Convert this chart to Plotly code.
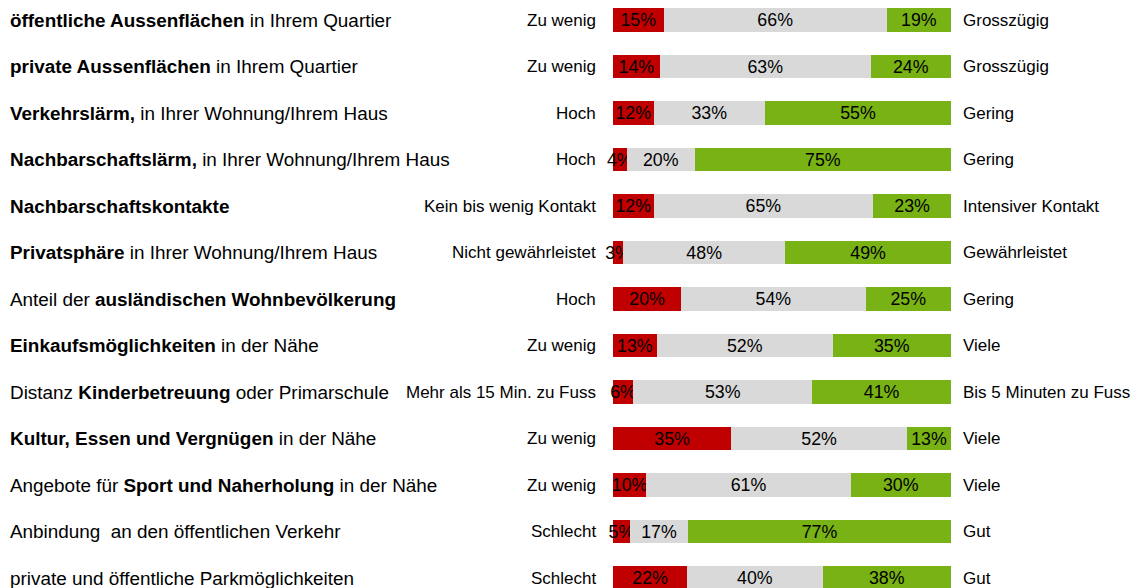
import plotly.graph_objects as go

# Bewertung des Wohnumfelds, Anteile in %
items = [
    "<b>öffentliche Aussenflächen</b> in Ihrem Quartier",
    "<b>private Aussenflächen</b> in Ihrem Quartier",
    "<b>Verkehrslärm,</b> in Ihrer Wohnung/Ihrem Haus",
    "<b>Nachbarschaftslärm,</b> in Ihrer Wohnung/Ihrem Haus",
    "<b>Nachbarschaftskontakte</b>",
    "<b>Privatsphäre</b> in Ihrer Wohnung/Ihrem Haus",
    "Anteil der <b>ausländischen Wohnbevölkerung</b>",
    "<b>Einkaufsmöglichkeiten</b> in der Nähe",
    "Distanz <b>Kinderbetreuung</b> oder Primarschule",
    "<b>Kultur, Essen und Vergnügen</b> in der Nähe",
    "Angebote für <b>Sport und Naherholung</b> in der Nähe",
    "Anbindung  an den öffentlichen Verkehr",
    "private und öffentliche Parkmöglichkeiten",
]
low_labels = ["Zu wenig", "Zu wenig", "Hoch", "Hoch", "Kein bis wenig Kontakt",
              "Nicht gewährleistet", "Hoch", "Zu wenig", "Mehr als 15 Min. zu Fuss",
              "Zu wenig", "Zu wenig", "Schlecht", "Schlecht"]
high_labels = ["Grosszügig", "Grosszügig", "Gering", "Gering", "Intensiver Kontakt",
               "Gewährleistet", "Gering", "Viele", "Bis 5 Minuten zu Fuss",
               "Viele", "Viele", "Gut", "Gut"]
neg = [15, 14, 12, 4, 12, 3, 20, 13, 6, 35, 10, 5, 22]
mid = [66, 63, 33, 20, 65, 48, 54, 52, 53, 52, 61, 17, 40]
pos = [19, 24, 55, 75, 23, 49, 25, 35, 41, 13, 30, 77, 38]

FONT = "Liberation Sans, Arial, sans-serif"
W, H = 1142, 588
BAR_L, BAR_R = 613, 951

rows = list(range(len(items)))
totals = [a + b + c for a, b, c in zip(neg, mid, pos)]


def share(vals):
    # rounded values don't always add to 100, stretch bars to full width
    return [v / t * 100 for v, t in zip(vals, totals)]


fig = go.Figure()
for vals, color in [(neg, "#C00000"), (mid, "#D9D9D9"), (pos, "#78B214")]:
    fig.add_trace(go.Bar(
        y=rows, x=share(vals), orientation="h", width=0.5,
        marker=dict(color=color, line=dict(width=0)),
        text=[f"{v}%" for v in vals], textposition="inside", textangle=0,
        insidetextanchor="middle", constraintext="none",
        textfont=dict(family=FONT, size=17.8, color="#000000"),
        cliponaxis=False, hoverinfo="skip",
    ))

plot_w = BAR_R - BAR_L
for i in rows:
    fig.add_annotation(x=(8 - BAR_L) / plot_w, y=i, xref="paper", yref="y",
                       text=items[i], showarrow=False, xanchor="left",
                       font=dict(family=FONT, size=18.9, color="#000000"))
    fig.add_annotation(x=(598 - BAR_L) / plot_w, y=i, xref="paper", yref="y",
                       text=low_labels[i], showarrow=False, xanchor="right",
                       font=dict(family=FONT, size=17, color="#000000"))
    fig.add_annotation(x=(961 - BAR_L) / plot_w, y=i, xref="paper", yref="y",
                       text=high_labels[i], showarrow=False, xanchor="left",
                       font=dict(family=FONT, size=17, color="#000000"))

pitch = (578 - 20) / 12
fig.update_layout(
    barmode="stack", width=W, height=H, showlegend=False,
    plot_bgcolor="white", paper_bgcolor="white",
    margin=dict(l=BAR_L, r=W - BAR_R, t=0, b=0, pad=0),
    xaxis=dict(range=[0, 100], visible=False, fixedrange=True),
    yaxis=dict(range=[12 + (H - 578) / pitch, -20 / pitch], visible=False,
               fixedrange=True),
)

# page margin off so the figure sits at the window's corner
fig.write_html("out.html", config={"displayModeBar": False},
               post_script="document.body.style.margin='0';")
